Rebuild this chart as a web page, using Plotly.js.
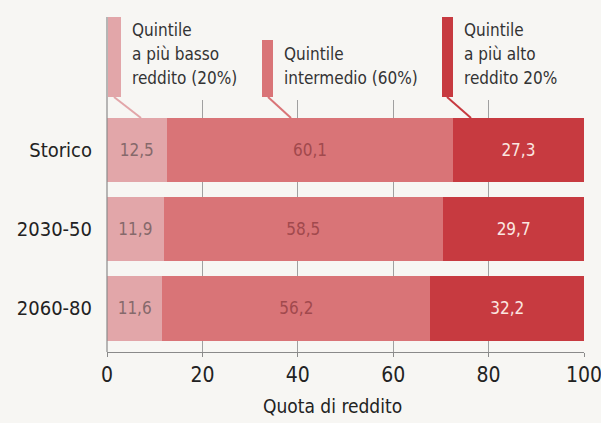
<!DOCTYPE html>
<html><head><meta charset="utf-8">
<script src="https://cdn.plot.ly/plotly-3.0.1.min.js"></script>
<style>html,body{margin:0;padding:0;background:#f7f6f3;}#c{width:601px;height:423px;}</style>
</head><body><div id="c"></div>
<script>
var categories = ['Storico', '2030-50', '2060-80'];
var lowQuintile = [12.5, 11.9, 11.6];
var midQuintile = [60.1, 58.5, 56.2];
var highQuintile = [27.3, 29.7, 32.2];
var seriesNames = ['Quintile a più basso reddito (20%)', 'Quintile intermedio (60%)', 'Quintile a più alto reddito 20%'];
var xTicks = [0, 20, 40, 60, 80, 100];
var xTitle = 'Quota di reddito';

var FONT = '"Liberation Sans Narrow", "DejaVu Sans Condensed", sans-serif';
var colors = ['#e2a6a9', '#d97477', '#c73a40'];
var textColors = ['#86696b', '#a1494d', '#fbe6e0'];
var series = [lowQuintile, midQuintile, highQuintile];

var traces = series.map(function(vals, i){
  return {
    type: 'bar', orientation: 'h',
    y: categories, x: vals, name: seriesNames[i],
    marker: {color: colors[i], line: {width: 0}},
    texttemplate: '%{x:.1f}', textposition: 'inside', insidetextanchor: 'middle',
    constraintext: 'none',
    textfont: {family: FONT, size: 17, color: textColors[i]},
    hoverinfo: 'none'
  };
});

// plot area geometry helpers (pixels -> paper)
var L = 107, R = 584, T = 100, B = 352;
function px(x){ return (x - L) / (R - L); }
function py(y){ return (B - y) / (B - T); }

var shapes = [
  {type:'line', xref:'paper', yref:'paper', x0:0, x1:0, y0:0, y1:py(17), line:{color:'#8a8a8a', width:1.2}},
  {type:'rect', xref:'paper', yref:'paper', x0:px(108), x1:px(121), y0:py(97), y1:py(17), fillcolor:colors[0], line:{width:0}},
  {type:'rect', xref:'paper', yref:'paper', x0:px(262), x1:px(273), y0:py(97), y1:py(40), fillcolor:colors[1], line:{width:0}},
  {type:'rect', xref:'paper', yref:'paper', x0:px(442), x1:px(453), y0:py(97), y1:py(17), fillcolor:colors[2], line:{width:0}},
  {type:'line', xref:'paper', yref:'paper', x0:px(114), y0:py(97), x1:px(141), y1:py(118), line:{color:colors[0], width:2}},
  {type:'line', xref:'paper', yref:'paper', x0:px(268), y0:py(97), x1:px(291), y1:py(118), line:{color:colors[1], width:2}},
  {type:'line', xref:'paper', yref:'paper', x0:px(447), y0:py(97), x1:px(471), y1:py(118), line:{color:colors[2], width:2}}
];

var legendLines = [
  {x:130, lines:['Quintile', 'a più basso', 'reddito (20%)'], ys:[30, 54, 78]},
  {x:282, lines:['Quintile', 'intermedio (60%)'], ys:[54, 78]},
  {x:462, lines:['Quintile', 'a più alto', 'reddito 20%'], ys:[30, 54, 78]}
];
var annotations = [];
legendLines.forEach(function(g){
  g.lines.forEach(function(t, k){
    annotations.push({xref:'paper', yref:'paper', x:px(g.x), y:py(g.ys[k]), xanchor:'left', yanchor:'middle',
      text:t, showarrow:false, font:{family:FONT, size:17, color:'#333'}});
  });
});
annotations.push({xref:'paper', yref:'paper', x:px(332), y:py(406), xanchor:'center', yanchor:'middle',
  text:xTitle, showarrow:false, font:{family:FONT, size:19, color:'#222'}});

var layout = {
  width: 601, height: 423,
  paper_bgcolor: '#f7f6f3', plot_bgcolor: '#f7f6f3',
  margin: {l: L, r: 601 - R, t: T, b: 423 - B},
  barmode: 'stack', bargap: 0.19,
  separators: ',.',
  showlegend: false,
  font: {family: FONT},
  xaxis: {
    range: [0, 100], tickvals: xTicks, ticktext: xTicks.map(String),
    showgrid: true, gridcolor: '#a0a0a0', gridwidth: 1,
    zeroline: false, showline: true, linecolor: '#8a8a8a', linewidth: 1.2,
    ticks: 'outside', ticklen: 4, tickcolor: '#8a8a8a',
    tickfont: {family: FONT, size: 21, color: '#222'},
    ticklabeloverflow: 'allow',
    fixedrange: true
  },
  yaxis: {
    type: 'category', range: [2.55, -0.63],
    showgrid: false, zeroline: false, showline: false, ticks: '',
    tickfont: {family: FONT, size: 20, color: '#222'},
    ticklabelstandoff: 14,
    fixedrange: true
  },
  shapes: shapes,
  annotations: annotations
};

Plotly.newPlot('c', traces, layout, {displayModeBar: false, staticPlot: true});
</script>
</body></html>
